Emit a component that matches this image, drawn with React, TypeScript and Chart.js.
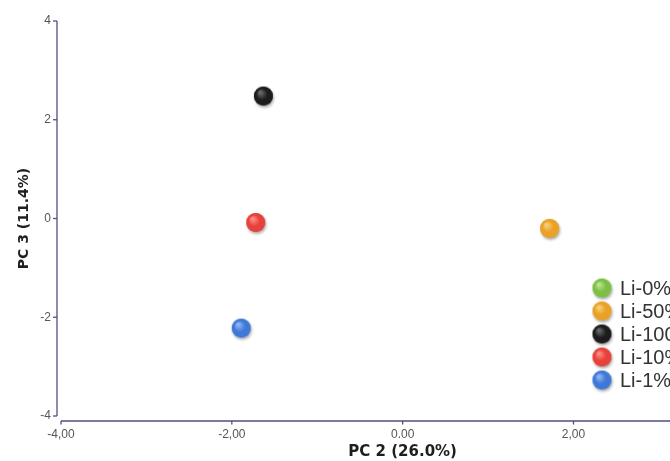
import React, { useEffect, useRef } from "react";
import { Chart, registerables } from "chart.js";

Chart.register(...registerables);

const seriesLabels = ["Li-0%", "Li-50%", "Li-100%", "Li-10%", "Li-1%"];
const seriesColors = ["#7dbf45", "#e9a126", "#1c1c1c", "#e6413b", "#3f78d6"];
const seriesLight = ["#b9e68f", "#f7d07a", "#6a6a6a", "#ff8c84", "#8fb6f5"];
const pc2Values = [3.55, 1.72, -1.63, -1.72, -1.89];
const pc3Values = [0.4, -0.2, 2.48, -0.08, -2.22];
const xTickValues = [-4, -2, 0, 2, 4];
const xTickLabels = ["-4,00", "-2,00", "0.00", "2,00", "4,00"];
const yTickValues = [-4, -2, 0, 2, 4];

const AXIS_COLOR = "#4f4f80";
const CANVAS_W = 767;

function makeBall(base: string, light: string, r: number): HTMLCanvasElement {
  const size = Math.ceil(r * 2 + 10);
  const c = document.createElement("canvas");
  c.width = size;
  c.height = size;
  const ctx = c.getContext("2d")!;
  const cx = size / 2;
  const cy = size / 2;
  ctx.save();
  ctx.shadowColor = "rgba(0,0,0,0.35)";
  ctx.shadowBlur = 3;
  ctx.shadowOffsetX = 1;
  ctx.shadowOffsetY = 2;
  ctx.beginPath();
  ctx.arc(cx, cy, r, 0, Math.PI * 2);
  ctx.fillStyle = base;
  ctx.fill();
  ctx.restore();
  const g = ctx.createRadialGradient(cx - r * 0.35, cy - r * 0.4, r * 0.1, cx, cy, r);
  g.addColorStop(0, light);
  g.addColorStop(0.55, base);
  g.addColorStop(1, base);
  ctx.beginPath();
  ctx.arc(cx, cy, r, 0, Math.PI * 2);
  ctx.fillStyle = g;
  ctx.fill();
  return c;
}

export default function App() {
  const ref = useRef<HTMLCanvasElement | null>(null);

  useEffect(() => {
    document.body.style.margin = "0";
    const canvas = ref.current!;
    const balls = seriesColors.map((c, i) => makeBall(c, seriesLight[i], 9.5));

    const axesAndLegend = {
      id: "axesAndLegend",
      afterDraw(chart: any) {
        const { ctx, chartArea, scales } = chart;
        const xs = scales.x;
        const ys = scales.y;
        ctx.save();
        ctx.strokeStyle = AXIS_COLOR;
        ctx.lineWidth = 1.3;
        const yx = chartArea.left - 4;
        ctx.beginPath();
        ctx.moveTo(yx, ys.getPixelForValue(4));
        ctx.lineTo(yx, ys.getPixelForValue(-4));
        ctx.stroke();
        yTickValues.forEach((v) => {
          const py = ys.getPixelForValue(v);
          ctx.beginPath();
          ctx.moveTo(yx - 4, py);
          ctx.lineTo(yx, py);
          ctx.stroke();
        });
        const xy = chartArea.bottom + 5;
        ctx.beginPath();
        ctx.moveTo(xs.getPixelForValue(-4), xy);
        ctx.lineTo(xs.getPixelForValue(4), xy);
        ctx.stroke();
        xTickValues.forEach((v) => {
          const px = xs.getPixelForValue(v);
          ctx.beginPath();
          ctx.moveTo(px, xy);
          ctx.lineTo(px, xy + 3.5);
          ctx.stroke();
        });
        const lx = 602;
        const ly0 = 288;
        ctx.font = "20px 'Liberation Sans', Arial, sans-serif";
        ctx.fillStyle = "#333333";
        ctx.textBaseline = "middle";
        ctx.textAlign = "left";
        seriesLabels.forEach((lab, i) => {
          const y = ly0 + i * 23;
          const b = balls[i];
          ctx.drawImage(b, lx - b.width / 2, y - b.height / 2);
          ctx.fillText(lab, 620, y + 1);
        });
        ctx.restore();
      },
    };

    const chart = new Chart(canvas, {
      type: "scatter",
      data: {
        datasets: seriesLabels.map((lab, i) => ({
          label: lab,
          data: [{ x: pc2Values[i], y: pc3Values[i] }],
          pointStyle: balls[i] as any,
          backgroundColor: seriesColors[i],
          borderColor: seriesColors[i],
          pointRadius: 10,
          pointHoverRadius: 10,
        })),
      },
      options: {
        responsive: false,
        animation: false,
        events: [],
        layout: { padding: { top: 21, right: 6, left: 0, bottom: 0 } },
        plugins: {
          legend: { display: false },
          tooltip: { enabled: false },
        },
        scales: {
          x: {
            type: "linear",
            min: -4,
            max: 4,
            afterFit: (s: any) => {
              s.height = 45;
            },
            afterBuildTicks: (s: any) => {
              s.ticks = xTickValues.map((v) => ({ value: v }));
            },
            grid: { display: false, drawTicks: false },
            border: { display: false },
            ticks: {
              padding: 11,
              color: "#555555",
              font: { family: "'Liberation Sans', Arial, sans-serif", size: 12 },
              maxRotation: 0,
              autoSkip: false,
              callback: (v: any) => {
                const idx = xTickValues.indexOf(Number(v));
                return idx >= 0 ? xTickLabels[idx] : "";
              },
            },
            title: {
              display: true,
              text: "PC 2 (26.0%)",
              color: "#1e1e1e",
              font: { family: "'DejaVu Sans', sans-serif", size: 15, weight: "bold" },
              padding: { top: 0, bottom: 0 },
            },
          },
          y: {
            type: "linear",
            min: -4,
            max: 4,
            afterFit: (s: any) => {
              s.width = 61;
            },
            afterBuildTicks: (s: any) => {
              s.ticks = yTickValues.map((v) => ({ value: v }));
            },
            grid: { display: false, drawTicks: false },
            border: { display: false },
            ticks: {
              padding: 10,
              color: "#555555",
              font: { family: "'Liberation Sans', Arial, sans-serif", size: 12 },
              autoSkip: false,
              callback: (v: any) => String(v),
            },
            title: {
              display: true,
              text: "PC 3 (11.4%)",
              color: "#1e1e1e",
              font: { family: "'DejaVu Sans', sans-serif", size: 14, weight: "bold" },
              padding: { top: 15.5, bottom: 0 },
            },
          },
        },
      },
      plugins: [axesAndLegend],
    } as any);

    return () => chart.destroy();
  }, []);

  return (
    <div
      style={{
        position: "fixed",
        left: 0,
        top: 0,
        width: 670,
        height: 461,
        overflow: "hidden",
        background: "#ffffff",
      }}
    >
      <canvas ref={ref} width={CANVAS_W} height={461} style={{ width: CANVAS_W, height: 461, display: "block" }} />
    </div>
  );
}
